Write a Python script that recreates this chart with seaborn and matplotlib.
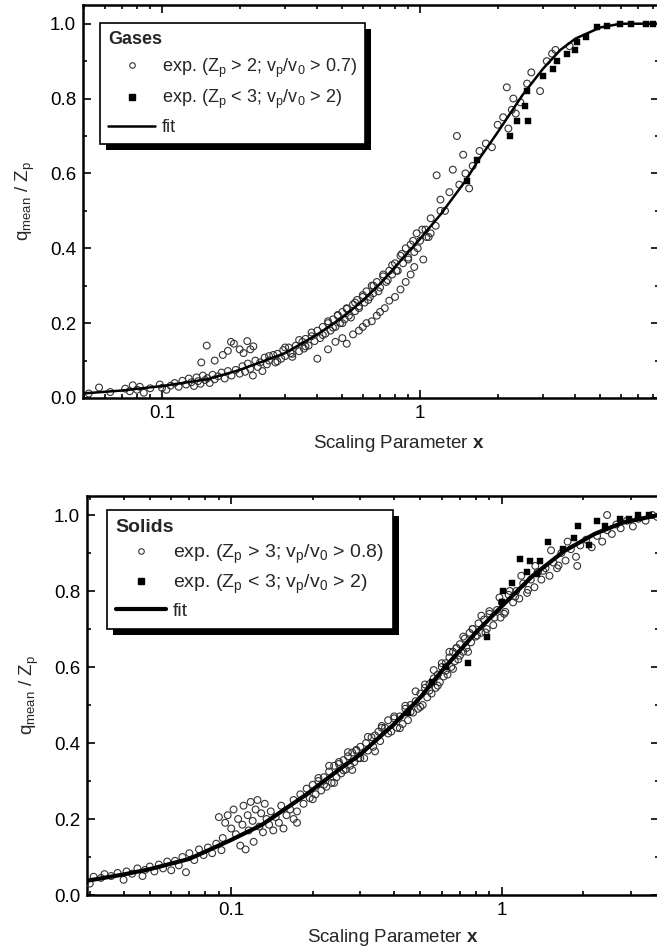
import numpy as np
import pandas as pd
import matplotlib
matplotlib.use("Agg")
import matplotlib.pyplot as plt
from matplotlib.lines import Line2D
from matplotlib.patches import Rectangle
from matplotlib.ticker import FixedLocator, NullFormatter, MultipleLocator
import seaborn as sns

# ---------------- data: Gases (top) ----------------
gases_fit_x = [0.049, 0.07, 0.1, 0.15, 0.2, 0.3, 0.4, 0.5, 0.6, 0.7, 0.8, 1.0, 1.2, 1.5,
               1.7, 2.0, 2.5, 3.0, 3.5, 4.0, 5.0, 6.0, 8.44]
gases_fit_y = [0.012, 0.02, 0.032, 0.05, 0.075, 0.12, 0.17, 0.215, 0.26, 0.305, 0.35, 0.425,
               0.49, 0.58, 0.64, 0.71, 0.81, 0.88, 0.93, 0.96, 0.99, 1.0, 1.0]

gases_exp_x = [0.052, 0.057, 0.063, 0.072, 0.075, 0.077, 0.08, 0.082, 0.085, 0.09, 0.098, 0.1, 0.104, 0.108,
               0.112, 0.116, 0.12, 0.124, 0.127, 0.13, 0.133, 0.136, 0.138, 0.141, 0.144, 0.147, 0.15, 0.153,
               0.157, 0.16, 0.165, 0.17, 0.175, 0.18, 0.186, 0.193,
               0.149, 0.142, 0.16, 0.172, 0.18, 0.185, 0.19, 0.2, 0.207, 0.214, 0.22, 0.226,
               0.2, 0.205, 0.21, 0.215, 0.22, 0.225, 0.23, 0.235, 0.24, 0.245, 0.25, 0.255, 0.26, 0.27, 0.275,
               0.28, 0.29, 0.295, 0.3, 0.31, 0.315, 0.32, 0.33, 0.34, 0.35, 0.355, 0.36, 0.37, 0.38, 0.39,
               0.4, 0.41, 0.42, 0.43, 0.44, 0.45, 0.46, 0.47, 0.48, 0.49, 0.5, 0.51, 0.52, 0.53, 0.55, 0.56,
               0.57, 0.58, 0.6, 0.61, 0.62, 0.64, 0.65, 0.66, 0.68, 0.7, 0.72, 0.74, 0.76, 0.78,
               0.44, 0.47, 0.5, 0.52, 0.55, 0.58, 0.6, 0.62, 0.65, 0.68, 0.7, 0.73, 0.76, 0.8, 0.84, 0.88,
               0.92, 0.95, 0.4,
               0.8, 0.82, 0.84, 0.86, 0.88, 0.9, 0.92, 0.95, 0.97, 1.0, 1.03, 1.05, 1.08, 1.1, 1.15, 1.2,
               1.1, 1.16, 1.2, 1.25, 1.3, 1.34, 1.39, 1.42, 1.47, 1.5, 1.55, 1.6, 1.7, 1.8, 1.9, 2.0,
               2.1, 2.17, 2.2, 2.27, 2.3, 2.35, 2.45, 2.6, 2.7, 2.92, 3.1, 3.25, 3.35, 3.8,
               0.26, 0.28, 0.3, 0.32, 0.34, 0.36, 0.38, 0.42, 0.44, 0.46, 0.48, 0.5, 0.52, 0.54, 0.56,
               0.58, 0.6, 0.63, 0.66, 0.69, 0.72, 0.75, 0.78, 0.81, 0.85, 0.9, 0.94, 0.98, 1.02, 1.06]
gases_exp_y = [0.012, 0.028, 0.016, 0.025, 0.018, 0.034, 0.022, 0.03, 0.014, 0.026, 0.036, 0.027, 0.022, 0.033,
               0.04, 0.03, 0.046, 0.036, 0.052, 0.042, 0.032, 0.055, 0.045, 0.038, 0.06, 0.048, 0.053, 0.04,
               0.062, 0.05, 0.058, 0.068, 0.052, 0.072, 0.06, 0.075,
               0.14, 0.095, 0.1, 0.115, 0.126, 0.15, 0.145, 0.13, 0.12, 0.152, 0.13, 0.138,
               0.065, 0.085, 0.07, 0.092, 0.078, 0.06, 0.1, 0.083, 0.095, 0.072, 0.108, 0.09, 0.1, 0.115, 0.095,
               0.118, 0.105, 0.128, 0.112, 0.135, 0.12, 0.11, 0.14, 0.125, 0.15, 0.132, 0.158, 0.14, 0.165, 0.152,
               0.18, 0.16, 0.19, 0.172, 0.2, 0.18, 0.21, 0.19, 0.222, 0.2, 0.23, 0.21, 0.24, 0.22, 0.25, 0.232,
               0.262, 0.245, 0.27, 0.255, 0.285, 0.27, 0.3, 0.28, 0.31, 0.295, 0.325, 0.31, 0.34, 0.33,
               0.13, 0.15, 0.16, 0.145, 0.17, 0.18, 0.19, 0.2, 0.205, 0.22, 0.23, 0.24, 0.26, 0.27, 0.29, 0.31,
               0.33, 0.35, 0.105,
               0.36, 0.34, 0.38, 0.36, 0.4, 0.375, 0.41, 0.39, 0.44, 0.42, 0.37, 0.45, 0.43, 0.48, 0.46, 0.5,
               0.44, 0.595, 0.53, 0.5, 0.55, 0.61, 0.70, 0.57, 0.65, 0.6, 0.56, 0.62, 0.66, 0.68, 0.67, 0.73,
               0.75, 0.83, 0.72, 0.77, 0.80, 0.76, 0.79, 0.84, 0.87, 0.82, 0.9, 0.92, 0.93, 0.94,
               0.112, 0.098, 0.135, 0.118, 0.155, 0.138, 0.175, 0.168, 0.205, 0.188, 0.22, 0.2, 0.238, 0.215,
               0.255, 0.24, 0.275, 0.262, 0.3, 0.285, 0.33, 0.315, 0.355, 0.34, 0.385, 0.37, 0.42, 0.4, 0.45, 0.43]

gases_sq_x = [1.52, 1.66, 2.23, 2.38, 2.55, 2.6, 2.62, 3.0, 3.28, 3.4, 3.7, 4.0, 4.06, 4.4, 4.85,
              5.3, 5.95, 6.6, 7.5, 8.0]
gases_sq_y = [0.58, 0.635, 0.70, 0.74, 0.78, 0.82, 0.74, 0.86, 0.88, 0.90, 0.92, 0.93, 0.95, 0.965, 0.99,
              0.995, 1.0, 1.0, 1.0, 1.0]

# ---------------- data: Solids (bottom) ----------------
solids_fit_x = [0.029, 0.04, 0.05, 0.07, 0.1, 0.13, 0.19, 0.25, 0.3, 0.4, 0.5, 0.6, 0.8, 1.0,
                1.3, 1.7, 2.2, 2.8, 3.8]
solids_fit_y = [0.037, 0.054, 0.068, 0.095, 0.145, 0.185, 0.265, 0.33, 0.37, 0.45, 0.52, 0.59,
                0.69, 0.76, 0.84, 0.905, 0.95, 0.98, 1.0]

solids_exp_x = [0.03, 0.031, 0.033, 0.034, 0.036, 0.038, 0.04, 0.041, 0.043, 0.045, 0.047, 0.048, 0.05,
                0.052, 0.054, 0.056, 0.058, 0.06, 0.062, 0.064, 0.066, 0.068, 0.07, 0.073, 0.076, 0.079,
                0.082, 0.085, 0.088, 0.092,
                0.09, 0.093, 0.095, 0.097, 0.1, 0.102, 0.104, 0.106, 0.108, 0.11, 0.111, 0.113, 0.115,
                0.116, 0.118, 0.12, 0.121, 0.123, 0.125, 0.127, 0.129, 0.131, 0.133, 0.135, 0.138, 0.14,
                0.143, 0.146, 0.15, 0.153, 0.156, 0.16, 0.165, 0.17, 0.175,
                0.17, 0.175, 0.18, 0.185, 0.19, 0.195, 0.2, 0.205, 0.21, 0.215, 0.22, 0.225, 0.23, 0.235,
                0.24, 0.245, 0.25, 0.255, 0.26, 0.265, 0.27, 0.275, 0.28, 0.285, 0.29, 0.295, 0.3, 0.31,
                0.315, 0.32, 0.33, 0.335, 0.34, 0.35, 0.355, 0.36, 0.37, 0.38, 0.39, 0.4,
                0.41, 0.42, 0.43, 0.44, 0.45, 0.46, 0.47, 0.48, 0.49, 0.5, 0.51, 0.52, 0.53, 0.54, 0.55,
                0.56, 0.57, 0.58, 0.59, 0.6, 0.61, 0.62, 0.63, 0.64, 0.65, 0.66, 0.67, 0.68, 0.69, 0.7,
                0.72, 0.73, 0.74, 0.76, 0.77, 0.78, 0.8, 0.82, 0.84, 0.86, 0.88, 0.9, 0.93, 0.96, 0.99,
                1.0, 1.03, 1.06, 1.1, 1.13, 1.16, 1.2, 1.24, 1.28, 1.32, 1.36, 1.4, 1.45, 1.5, 1.55, 1.6,
                1.66, 1.72, 1.8, 1.88, 1.95, 2.05, 2.15, 2.25, 2.35, 2.45, 2.55, 2.65, 2.75, 2.9, 3.05,
                3.2, 3.4, 3.6, 3.75, 1.9, 2.45,
                0.2, 0.21, 0.22, 0.23, 0.24, 0.25, 0.26, 0.27, 0.28, 0.29, 0.3, 0.32, 0.34, 0.36, 0.38,
                0.4, 0.42, 0.44, 0.46, 0.48, 0.5, 0.52, 0.54, 0.56, 0.58, 0.6, 0.62, 0.64, 0.66, 0.68,
                0.7, 0.72, 0.75, 0.78, 0.81, 0.84, 0.87, 0.9, 0.94, 0.98, 1.02, 1.07, 1.12, 1.18, 1.25,
                1.33, 1.42, 1.52, 1.62, 1.75]
solids_exp_y = [0.03, 0.048, 0.045, 0.055, 0.05, 0.058, 0.04, 0.062, 0.056, 0.07, 0.05, 0.066, 0.075,
                0.062, 0.08, 0.07, 0.088, 0.065, 0.09, 0.078, 0.1, 0.06, 0.11, 0.092, 0.12, 0.105,
                0.125, 0.11, 0.135, 0.118,
                0.205, 0.15, 0.19, 0.21, 0.175, 0.225, 0.16, 0.2, 0.13, 0.185, 0.235, 0.12, 0.21,
                0.17, 0.245, 0.195, 0.14, 0.225, 0.25, 0.18, 0.215, 0.165, 0.24, 0.2, 0.185, 0.22,
                0.17, 0.205, 0.19, 0.235, 0.175, 0.21, 0.225, 0.2, 0.19,
                0.25, 0.22, 0.265, 0.24, 0.28, 0.255, 0.29, 0.265, 0.3, 0.275, 0.31, 0.285, 0.325, 0.295,
                0.34, 0.31, 0.345, 0.32, 0.355, 0.33, 0.365, 0.34, 0.375, 0.35, 0.38, 0.36, 0.39, 0.36,
                0.4, 0.38, 0.415, 0.39, 0.42, 0.43, 0.405, 0.445, 0.44, 0.46, 0.43, 0.47,
                0.44, 0.47, 0.45, 0.49, 0.46, 0.5, 0.48, 0.51, 0.49, 0.53, 0.5, 0.545, 0.52, 0.555, 0.53,
                0.57, 0.545, 0.58, 0.56, 0.6, 0.575, 0.61, 0.58, 0.625, 0.6, 0.64, 0.615, 0.65, 0.62, 0.66,
                0.64, 0.675, 0.65, 0.69, 0.665, 0.7, 0.68, 0.715, 0.69, 0.725, 0.7, 0.74, 0.71, 0.75, 0.73,
                0.77, 0.745, 0.79, 0.77, 0.8, 0.78, 0.82, 0.795, 0.83, 0.81, 0.85, 0.83, 0.86, 0.84, 0.875,
                0.86, 0.9, 0.88, 0.91, 0.89, 0.92, 0.935, 0.915, 0.945, 0.93, 0.96, 0.95, 0.975, 0.965,
                0.985, 0.97, 0.99, 0.985, 1.0, 0.995, 0.866, 1.0,
                0.252, 0.308, 0.29, 0.34, 0.295, 0.35, 0.328, 0.376, 0.329, 0.382, 0.36, 0.416, 0.378,
                0.44, 0.425, 0.465, 0.439, 0.498, 0.482, 0.536, 0.495, 0.554, 0.538, 0.592, 0.551, 0.61,
                0.59, 0.64, 0.595, 0.65, 0.63, 0.68, 0.64, 0.7, 0.683, 0.735, 0.691, 0.747, 0.73, 0.783,
                0.74, 0.8, 0.785, 0.84, 0.803, 0.866, 0.853, 0.907, 0.867, 0.93]

solids_sq_x = [0.45, 0.55, 0.62, 0.75, 0.88, 1.0, 1.01, 1.09, 1.17, 1.24, 1.27, 1.35, 1.38, 1.48, 1.68,
               1.85, 1.91, 2.1, 2.25, 2.4, 2.73, 2.95, 3.2, 3.5]
solids_sq_y = [0.48, 0.56, 0.6, 0.61, 0.68, 0.77, 0.80, 0.82, 0.885, 0.85, 0.88, 0.845, 0.88, 0.93, 0.91,
               0.94, 0.97, 0.92, 0.985, 0.97, 0.99, 0.99, 1.0, 1.0]

# ---------------- labels ----------------
y_label = r"q$_{\mathrm{mean}}$ / Z$_{\mathrm{p}}$"
x_label = r"Scaling Parameter $\mathbf{x}$"
gases_title = "Gases"
solids_title = "Solids"
gases_lbl1 = r"exp. (Z$_\mathrm{p}$ > 2; v$_\mathrm{p}$/v$_\mathrm{0}$ > 0.7)"
gases_lbl2 = r"exp. (Z$_\mathrm{p}$ < 3; v$_\mathrm{p}$/v$_\mathrm{0}$ > 2)"
solids_lbl1 = r"exp. (Z$_\mathrm{p}$ > 3; v$_\mathrm{p}$/v$_\mathrm{0}$ > 0.8)"
solids_lbl2 = r"exp. (Z$_\mathrm{p}$ < 3; v$_\mathrm{p}$/v$_\mathrm{0}$ > 2)"
fit_lbl = "fit"

sns.set_theme(style="ticks")
plt.rcParams["font.family"] = ["Liberation Sans", "DejaVu Sans"]
plt.rcParams["mathtext.fontset"] = "custom"
plt.rcParams["mathtext.rm"] = "Liberation Sans"
plt.rcParams["mathtext.bf"] = "Liberation Sans:bold"
plt.rcParams["mathtext.it"] = "Liberation Sans:italic"

W, H = 657, 950
fig = plt.figure(figsize=(W / 100, H / 100), dpi=100)

def px_axes(l, t, r, b):
    return fig.add_axes([l / W, 1 - b / H, (r - l) / W, (b - t) / H])

ax1 = px_axes(83, 5, 659, 398)
ax2 = px_axes(87, 496, 659, 895)


def draw_panel(ax, fx, fy, ex, ey, sx, sy, xlim, title, l1, l2, lw_fit, leg_anchor, leg_fs,
               xlabel_pos, leg_spacing):
    sns.scatterplot(x=ex, y=ey, ax=ax, marker="o", s=24, facecolor="none",
                    edgecolor="#333333", linewidth=0.8, zorder=3, legend=False)
    sns.scatterplot(x=sx, y=sy, ax=ax, marker="s", s=18, color="black",
                    edgecolor="black", linewidth=0.3, zorder=3, legend=False)
    sns.lineplot(x=fx, y=fy, ax=ax, color="black", linewidth=lw_fit, zorder=4,
                 sort=True, estimator=None, legend=False)
    ax.set_xscale("log")
    ax.set_xlim(*xlim)
    ax.set_ylim(0.0, 1.05)
    ax.xaxis.set_major_locator(FixedLocator([0.1, 1]))
    ax.set_xticklabels(["0.1", "1"])
    minors = [m * 10.0 ** e for e in (-2, -1, 0) for m in range(2, 10)]
    ax.xaxis.set_minor_locator(FixedLocator(minors))
    ax.xaxis.set_minor_formatter(NullFormatter())
    ax.yaxis.set_minor_locator(MultipleLocator(0.1))
    ax.set_yticks([0.0, 0.2, 0.4, 0.6, 0.8, 1.0])
    ax.set_yticklabels(["0.0", "0.2", "0.4", "0.6", "0.8", "1.0"])
    ax.tick_params(which="both", direction="in", top=True, right=True, colors="black",
                   labelsize=13.5, width=1.2)
    ax.tick_params(which="major", length=6, pad=5)
    ax.tick_params(which="minor", length=3)
    for sp in ax.spines.values():
        sp.set_visible(True)
        sp.set_color("black")
        sp.set_linewidth(1.8)
    ax.set_xlabel(x_label, fontsize=13.5)
    ax.xaxis.set_label_coords(xlabel_pos[0], xlabel_pos[1])
    ax.set_ylabel(y_label, fontsize=13.5, labelpad=9)

    handles = [
        Line2D([], [], marker="o", linestyle="none", markersize=4.0, markerfacecolor="none",
               markeredgecolor="#333333", markeredgewidth=0.8),
        Line2D([], [], marker="s", linestyle="none", markersize=3.8, color="black"),
        Line2D([], [], color="black", linewidth=lw_fit),
    ]
    leg = ax.legend(handles, [l1, l2, fit_lbl], title=title, loc="upper left",
                    bbox_to_anchor=leg_anchor, borderaxespad=0, frameon=True, fancybox=False,
                    edgecolor="black", framealpha=1, fontsize=leg_fs, handlelength=2.6,
                    handletextpad=0.35, labelspacing=leg_spacing, borderpad=0.45, alignment="left",
                    title_fontproperties={"weight": "bold", "size": leg_fs})
    leg.get_frame().set_linewidth(1.2)
    leg.set_zorder(10)
    return leg


leg1 = draw_panel(ax1, gases_fit_x, gases_fit_y, gases_exp_x, gases_exp_y, gases_sq_x, gases_sq_y,
                  (0.0494, 8.44), gases_title, gases_lbl1, gases_lbl2, 1.8, (0.030, 0.954), 13,
                  (0.549, -0.088), 0.45)
leg2 = draw_panel(ax2, solids_fit_x, solids_fit_y, solids_exp_x, solids_exp_y, solids_sq_x, solids_sq_y,
                  (0.0293, 3.81), solids_title, solids_lbl1, solids_lbl2, 3.0, (0.035, 0.965), 14,
                  (0.535, -0.080), 0.35)

fig.canvas.draw()
for ax, leg in ((ax1, leg1), (ax2, leg2)):
    bb = leg.get_window_extent()
    inv = ax.transAxes.inverted()
    (x0, y0) = inv.transform((bb.x0 + 6, bb.y0 - 6))
    (x1, y1) = inv.transform((bb.x1 + 6, bb.y1 - 6))
    rect = Rectangle((x0, y0), x1 - x0, y1 - y0, transform=ax.transAxes, facecolor="black",
                     edgecolor="none", zorder=9.5, clip_on=False)
    ax.add_patch(rect)

fig.savefig("out.png", dpi=100)
